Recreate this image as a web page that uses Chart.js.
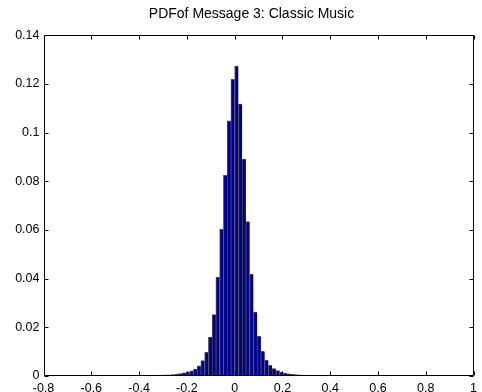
<!DOCTYPE html>
<html>
<head>
<meta charset="utf-8">
<script src="https://cdn.jsdelivr.net/npm/chart.js@4/dist/chart.umd.min.js"></script>
<style>
	body { margin: 0; background: #fff; }
	canvas { display: block; }
</style>
</head>
<body>
<canvas id="pdf-chart" width="482" height="392"></canvas>
<script>
const chartTitle = 'PDFof Message 3: Classic Music';

// histogram bin centres (100 bins)
const binCenters = [
	-0.6357, -0.6200, -0.6043, -0.5886, -0.5729, -0.5572, -0.5415, -0.5258, -0.5101, -0.4944,
	-0.4787, -0.4630, -0.4473, -0.4316, -0.4159, -0.4002, -0.3845, -0.3688, -0.3531, -0.3374,
	-0.3217, -0.3060, -0.2903, -0.2746, -0.2589, -0.2432, -0.2275, -0.2118, -0.1961, -0.1804,
	-0.1647, -0.1490, -0.1333, -0.1176, -0.1019, -0.0862, -0.0705, -0.0548, -0.0391, -0.0234,
	-0.0077, 0.0080, 0.0237, 0.0394, 0.0551, 0.0708, 0.0865, 0.1022, 0.1179, 0.1336,
	0.1493, 0.1650, 0.1807, 0.1964, 0.2121, 0.2278, 0.2435, 0.2592, 0.2749, 0.2906,
	0.3063, 0.3220, 0.3377, 0.3534, 0.3691, 0.3848, 0.4005, 0.4162, 0.4319, 0.4476,
	0.4633, 0.4790, 0.4947, 0.5104, 0.5261, 0.5418, 0.5575, 0.5732, 0.5889, 0.6046,
	0.6203, 0.6360, 0.6517, 0.6674, 0.6831, 0.6988, 0.7145, 0.7302, 0.7459, 0.7616,
	0.7773, 0.7930, 0.8087, 0.8244, 0.8401, 0.8558, 0.8715, 0.8872, 0.9029, 0.9186
];

// probability per bin
const pdfValues = [
	0.0003, 0.0003, 0.0003, 0.0003, 0.0003, 0.0003, 0.0003, 0.0003, 0.0003, 0.0003,
	0.0003, 0.0003, 0.0003, 0.0003, 0.0003, 0.0003, 0.0003, 0.0003, 0.0003, 0.0003,
	0.0003, 0.0004, 0.0005, 0.0005, 0.0006, 0.0008, 0.0010, 0.0013, 0.0017, 0.0021,
	0.0028, 0.0042, 0.0063, 0.0097, 0.0160, 0.0252, 0.0406, 0.0603, 0.0825, 0.1049,
	0.1219, 0.1274, 0.1117, 0.0891, 0.0635, 0.0419, 0.0263, 0.0163, 0.0101, 0.0064,
	0.0044, 0.0030, 0.0022, 0.0016, 0.0012, 0.0009, 0.0007, 0.0006, 0.0005, 0.0004,
	0.0003, 0.0003, 0.0003, 0.0003, 0.0003, 0.0003, 0.0003, 0.0003, 0.0003, 0.0003,
	0.0003, 0.0003, 0.0003, 0.0003, 0.0003, 0.0003, 0.0003, 0.0003, 0.0003, 0.0003,
	0.0003, 0.0003, 0.0003, 0.0003, 0.0003, 0.0003, 0.0003, 0.0003, 0.0003, 0.0003,
	0.0003, 0.0003, 0, 0, 0, 0.0003, 0.0003, 0.0003, 0.0003, 0.0003
];

const xTicks = [-0.8, -0.6, -0.4, -0.2, 0, 0.2, 0.4, 0.6, 0.8, 1];
const yTicks = [0, 0.02, 0.04, 0.06, 0.08, 0.1, 0.12, 0.14];

const fontFamily = '"Liberation Sans", Arial, Helvetica, sans-serif';

// matlab style box with inward tick marks on all four sides, plus the title
const axesFrame = {
	id: 'axesFrame',
	afterDraw(chart) {
		const { ctx, chartArea: area } = chart;
		const xScale = chart.scales.x;
		const yScale = chart.scales.y;
		const len = 4;
		const l = Math.round(area.left) + 0.5;
		const r = Math.round(area.right) - 0.5;
		const t = Math.round(area.top) + 0.5;
		const b = Math.round(area.bottom) - 0.5;

		ctx.save();
		ctx.strokeStyle = '#000';
		ctx.lineWidth = 1;
		ctx.beginPath();
		ctx.rect(l, t, r - l, b - t);

		xTicks.forEach(v => {
			const px = Math.round(xScale.getPixelForValue(v)) + 0.5;
			ctx.moveTo(px, b);
			ctx.lineTo(px, b - len);
			ctx.moveTo(px, t);
			ctx.lineTo(px, t + len);
		});

		yTicks.forEach(v => {
			const py = Math.round(yScale.getPixelForValue(v)) + 0.5;
			ctx.moveTo(l, py);
			ctx.lineTo(l + len, py);
			ctx.moveTo(r, py);
			ctx.lineTo(r - len, py);
		});

		ctx.stroke();

		ctx.fillStyle = '#000';
		ctx.font = '14px ' + fontFamily;
		ctx.textAlign = 'center';
		ctx.textBaseline = 'alphabetic';
		ctx.fillText(chartTitle, (area.left + area.right) / 2 - 7, 18);
		ctx.restore();
	}
};

Chart.defaults.font.family = fontFamily;
Chart.defaults.color = '#000';

new Chart(document.querySelector('#pdf-chart'), {
	type: 'bar',
	data: {
		datasets: [{
			data: binCenters.map((x, i) => ({ x, y: pdfValues[i] })),
			backgroundColor: '#00008f',
			borderColor: '#4a4a4a',
			borderWidth: { left: 1, right: 0, top: 1, bottom: 0 },
			borderSkipped: false,
			barPercentage: 1,
			categoryPercentage: 1
		}]
	},
	options: {
		responsive: false,
		animation: false,
		devicePixelRatio: 1,
		layout: {
			padding: { left: 0, right: 5, top: 35.3, bottom: 0 }
		},
		scales: {
			x: {
				type: 'linear',
				min: -0.8,
				max: 1,
				offset: false,
				grid: { display: false, drawTicks: false, tickLength: 0 },
				border: { display: false },
				afterBuildTicks: scale => {
					scale.ticks = xTicks.map(value => ({ value }));
				},
				afterFit: scale => {
					scale.height = 16;
				},
				ticks: {
					padding: 5,
					maxRotation: 0,
					autoSkip: false,
					font: { size: 12.5 },
					callback: value => String(value)
				}
			},
			y: {
				min: 0,
				max: 0.14,
				grid: { display: false, drawTicks: false, tickLength: 0 },
				border: { display: false },
				afterBuildTicks: scale => {
					scale.ticks = yTicks.map(value => ({ value }));
				},
				afterFit: scale => {
					scale.width = 43.5;
				},
				ticks: {
					padding: 4,
					font: { size: 12.5 },
					callback: value => String(value)
				}
			}
		},
		plugins: {
			legend: { display: false },
			tooltip: { enabled: false },
			title: { display: false }
		}
	},
	plugins: [axesFrame]
});
</script>
</body>
</html>
